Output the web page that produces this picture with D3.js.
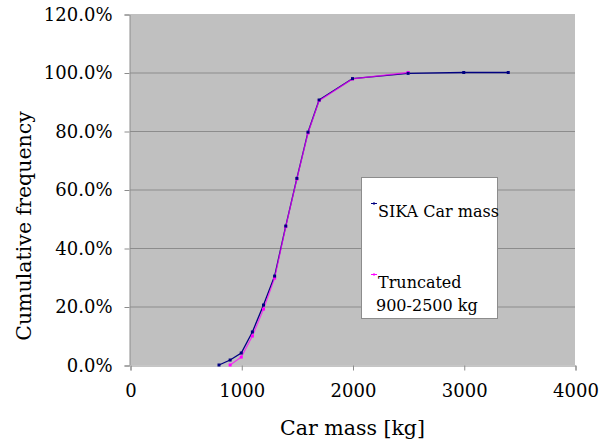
<!DOCTYPE html>
<html>
<head>
<meta charset="utf-8">
<script src="https://cdn.jsdelivr.net/npm/d3@7"></script>
<style>
  body { margin: 0; background: #fff; }
  svg { display: block; font-family: "DejaVu Serif", serif; }
</style>
</head>
<body>
<div id="chart"></div>
<script>
// Data
const sikaMass = [800, 900, 1000, 1100, 1200, 1300, 1400, 1500, 1600, 1700, 2000, 2500, 3000, 3400];
const sikaFreq = [0, 1.7, 4.1, 11.3, 20.5, 30.4, 47.5, 63.8, 79.6, 90.6, 97.9, 99.7, 100, 100];
const truncMass = [900, 1000, 1100, 1200, 1300, 1400, 1500, 1600, 1700, 2000, 2500];
const truncFreq = [0, 2.7, 9.9, 19.1, 29.7, 47.3, 63.6, 79.3, 90.4, 97.8, 100];
const xTicks = [0, 1000, 2000, 3000, 4000];
const yTicks = [0, 20, 40, 60, 80, 100, 120];
const seriesNames = ['SIKA Car mass', 'Truncated|900-2500 kg'];

const width = 600, height = 447;
const m = { left: 130, right: 25, top: 14, bottom: 82 };

const svg = d3.select('#chart').append('svg').attr('width', width).attr('height', height);

const x = d3.scaleLinear().domain([0, 4000]).range([m.left, width - m.right]);
const y = d3.scaleLinear().domain([0, 120]).range([height - m.bottom, m.top]);

// plot background
svg.append('rect')
    .attr('x', x(0)).attr('y', y(120))
    .attr('width', x(4000) - x(0)).attr('height', y(0) - y(120))
    .attr('fill', '#c0c0c0');

// gridlines
svg.selectAll('line.grid').data(yTicks.filter(d => d > 0 && d < 120)).enter().append('line')
    .attr('x1', x(0)).attr('x2', x(4000))
    .attr('y1', d => y(d) + 0.5).attr('y2', d => y(d) + 0.5)
    .attr('stroke', '#8c8c8c').attr('stroke-width', 1);

// axes
const yAxis = d3.axisLeft(y).tickValues(yTicks).tickSize(5).tickPadding(12).tickFormat(d => d.toFixed(1) + '%');
const gy = svg.append('g').attr('transform', `translate(${x(0) - 0.5},0.5)`).call(yAxis);
const xAxis = d3.axisBottom(x).tickValues(xTicks).tickSize(5).tickPadding(14).tickFormat(d3.format('d'));
const gx = svg.append('g').attr('transform', `translate(0.5,${y(0) + 0.5})`).call(xAxis);

[gx, gy].forEach(g => {
    g.select('.domain').attr('stroke', '#8c8c8c');
    g.selectAll('.tick line').attr('stroke', '#8c8c8c');
    g.selectAll('.tick text').attr('fill', '#000').style('font-size', '18px').style('font-family', '"DejaVu Serif", serif');
});

// axis titles
svg.append('text')
    .attr('x', x(2000)).attr('y', 435)
    .attr('text-anchor', 'middle').style('font-size', '20.5px')
    .text('Car mass [kg]');
svg.append('text')
    .attr('transform', `translate(31,226) rotate(-90)`)
    .attr('text-anchor', 'middle').style('font-size', '20.5px')
    .text('Cumulative frequency');

// lines
const sika = sikaMass.map((d, i) => ({ m: d, f: sikaFreq[i] }));
const trunc = truncMass.map((d, i) => ({ m: d, f: truncFreq[i] }));
const line = d3.line().x(d => x(d.m)).y(d => y(d.f));

svg.append('path').datum(sika).attr('d', line)
    .attr('fill', 'none').attr('stroke', '#000080').attr('stroke-width', 1.3);
svg.append('path').datum(trunc).attr('d', line)
    .attr('fill', 'none').attr('stroke', '#ff00ff').attr('stroke-width', 1.3).attr('stroke-opacity', 0.7);

svg.selectAll('rect.pm').data(trunc).enter().append('rect')
    .attr('x', d => x(d.m) - 1.5).attr('y', d => y(d.f) - 1.5)
    .attr('width', 3).attr('height', 3).attr('fill', '#ff00ff');
svg.selectAll('rect.bm').data(sika).enter().append('rect')
    .attr('x', d => x(d.m) - 1.5).attr('y', d => y(d.f) - 1.5)
    .attr('width', 3).attr('height', 3).attr('fill', '#000080');

// legend
const lg = svg.append('g');
lg.append('rect').attr('x', 361.5).attr('y', 177.5).attr('width', 136).attr('height', 141)
    .attr('fill', '#fff').attr('stroke', '#8c8c8c');
const legendItems = [
    { name: seriesNames[0], color: '#000080', y: 203 },
    { name: seriesNames[1], color: '#ff00ff', y: 274 }
];
legendItems.forEach(it => {
    lg.append('line').attr('x1', 371).attr('x2', 377).attr('y1', it.y + 0.5).attr('y2', it.y + 0.5)
        .attr('stroke', it.color).attr('stroke-width', 1);
    lg.append('rect').attr('x', 373).attr('y', it.y - 0.5).attr('width', 2).attr('height', 2).attr('fill', it.color);
    const t = lg.append('text').attr('x', 378).attr('y', it.y + 14).style('font-size', '16px');
    it.name.split('|').forEach((s, i) => {
        t.append('tspan').attr('x', i ? 376 : 378).attr('dy', i ? 23 : 0).text(s);
    });
});
</script>
</body>
</html>
